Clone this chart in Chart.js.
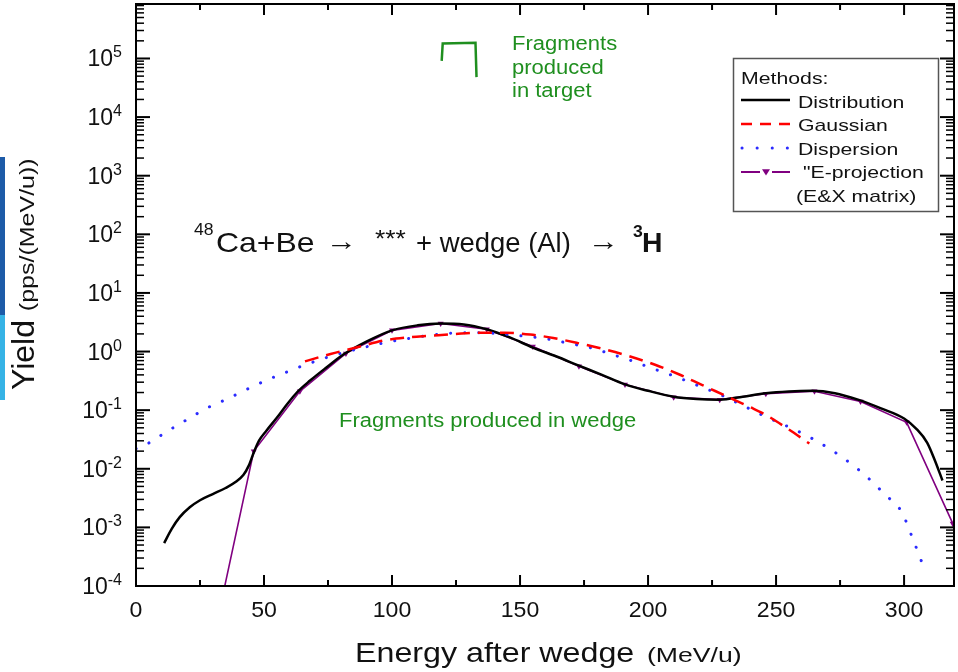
<!DOCTYPE html>
<html>
<head>
<meta charset="utf-8">
<script src="https://cdn.jsdelivr.net/npm/chart.js@4"></script>
<style>
  html, body { margin: 0; padding: 0; background: #fff; }
  #wrap { width: 958px; height: 672px; }
</style>
</head>
<body>
<div id="wrap"><canvas id="chart" width="958" height="672"></canvas></div>
<script>
// --- Data (energy in MeV/u, yield in pps/(MeV/u)) ---
const distE = [11, 14, 17, 21, 25, 30, 35, 39, 42, 44, 46, 48, 51, 55, 59, 63, 68, 74, 81, 90,
  100, 110, 119, 128, 137, 146, 155, 164, 173, 182, 191, 200, 210, 219, 228, 237, 246, 255,
  264, 273, 282, 291, 300, 305, 309, 312, 315];
const distY = [5.4e-4, 9.5e-4, 1.48e-3, 2.2e-3, 2.9e-3, 3.7e-3, 4.7e-3, 6.0e-3, 7.9e-3, 1.12e-2,
  1.9e-2, 3.0e-2, 4.5e-2, 7.4e-2, 0.126, 0.204, 0.32, 0.52, 0.89, 1.48,
  2.3, 2.8, 3.0, 2.9, 2.4, 1.74, 1.17, 0.83, 0.575, 0.40, 0.275, 0.214, 0.17, 0.155, 0.151,
  0.17, 0.195, 0.209, 0.214, 0.195, 0.151, 0.107, 0.072, 0.047, 0.028, 0.014, 0.0063];

const gaussE = [66, 76, 86, 97, 106, 115, 125, 134, 144, 154, 163, 173, 182, 192, 203, 212,
  221, 231, 240, 246, 254, 263];
const gaussY = [0.68, 0.91, 1.17, 1.55, 1.74, 1.86, 2.0, 2.09, 2.09, 1.95, 1.70, 1.38, 1.12,
  0.85, 0.59, 0.41, 0.27, 0.17, 0.112, 0.083, 0.050, 0.027];

const dispE = [0, 5, 12, 22, 27, 35, 44, 52, 60, 66, 76, 87, 95, 102, 112, 122, 131, 141, 150,
  160, 169, 179, 184, 193, 202, 211, 220, 228, 237, 245, 252, 258, 264, 272, 280, 285, 290,
  295, 299, 303, 307];
const dispY = [0.022, 0.0275, 0.043, 0.078, 0.105, 0.151, 0.234, 0.339, 0.468, 0.59, 0.83,
  1.12, 1.35, 1.55, 1.82, 2.04, 2.09, 2.04, 1.86, 1.66, 1.38, 1.12, 0.95, 0.71, 0.51, 0.37,
  0.257, 0.186, 0.12, 0.081, 0.059, 0.045, 0.033, 0.0204, 0.0115, 0.0076, 0.0047, 0.0029,
  0.00186, 7.1e-4, 2.5e-4];

const projE = [28, 46, 64, 82, 100, 119, 137, 155, 173, 191, 210, 228, 246, 265, 283, 301, 319];
const projY = [4.4e-6, 0.020, 0.21, 0.93, 2.3, 3.0, 2.4, 1.22, 0.56, 0.275, 0.166, 0.151,
  0.19, 0.21, 0.141, 0.062, 1.17e-3];

const xMajor = [0, 50, 100, 150, 200, 250, 300];
const yExponents = [-4, -3, -2, -1, 0, 1, 2, 3, 4, 5];

// green bracket marking fragments from the target (energy, yield)
const targetMarkE = [119.4, 119.8, 132.6, 133];
const targetMarkY = [9.1e4, 1.8e5, 1.85e5, 4.8e4];

const GREEN = "#1f8f1f";
const FONT = "'Liberation Sans', Arial, sans-serif";

const pts = (xs, ys) => xs.map((x, i) => ({ x, y: ys[i] }));

// draws text with an optional horizontal stretch, returns the drawn width
const drawText = (ctx, str, x, y, size, color, sx = 1, align = "left", weight = "") => {
  ctx.save();
  ctx.font = `${weight} ${size}px ${FONT}`;
  ctx.fillStyle = color;
  ctx.textBaseline = "alphabetic";
  const w = ctx.measureText(str).width * sx;
  let x0 = x;
  if (align === "center") x0 = x - w / 2;
  if (align === "right") x0 = x - w;
  ctx.translate(x0, y);
  ctx.scale(sx, 1);
  ctx.fillText(str, 0, 0);
  ctx.restore();
  return w;
};

const triangleDown = (ctx, x, y, r, color) => {
  ctx.beginPath();
  ctx.moveTo(x - r, y - r * 0.7);
  ctx.lineTo(x + r, y - r * 0.7);
  ctx.lineTo(x, y + r * 0.9);
  ctx.closePath();
  ctx.fillStyle = color;
  ctx.fill();
};

// --- frame, inward ticks, labels, titles and annotations ---
const decorations = {
  id: "decorations",
  beforeDraw(chart) {
    const ctx = chart.ctx;
    // slide edge strip on the left
    ctx.fillStyle = "#1d5ba8";
    ctx.fillRect(0, 157, 5, 158);
    ctx.fillStyle = "#36b3e6";
    ctx.fillRect(0, 315, 5, 85);
  },
  afterDraw(chart) {
    const ctx = chart.ctx;
    const { left, right, top, bottom } = chart.chartArea;
    const xs = chart.scales.x;
    const ys = chart.scales.y;

    ctx.save();
    ctx.strokeStyle = "#000";
    ctx.lineWidth = 2;
    ctx.strokeRect(left, top, right - left, bottom - top);

    const tick = (x1, y1, x2, y2, w) => {
      ctx.lineWidth = w;
      ctx.beginPath();
      ctx.moveTo(x1, y1);
      ctx.lineTo(x2, y2);
      ctx.stroke();
    };

    // x ticks (bottom up, top down)
    for (let v = 0; v <= xs.max; v += 25) {
      const px = xs.getPixelForValue(v);
      const len = v % 50 === 0 ? 11 : 6;
      tick(px, bottom, px, bottom - len, 2);
      tick(px, top, px, top + len, 2);
    }
    // y ticks (left to the right, right to the left)
    yExponents.forEach((e) => {
      for (let m = 1; m <= 9; m++) {
        const v = m * Math.pow(10, e);
        if (v > ys.max) break;
        const py = ys.getPixelForValue(v);
        const len = m === 1 ? 14 : 8;
        const w = m === 1 ? 2 : 1.5;
        tick(left, py, left + len, py, w);
        tick(right, py, right - len, py, w);
      }
    });

    // x tick labels
    xMajor.forEach((v) => {
      drawText(ctx, String(v), xs.getPixelForValue(v), 617, 22, "#111", 1.05, "center");
    });
    // y tick labels as 10^n
    yExponents.forEach((e) => {
      const py = ys.getPixelForValue(Math.pow(10, e));
      ctx.font = `16px ${FONT}`;
      const we = ctx.measureText(String(e)).width;
      ctx.font = `23px ${FONT}`;
      const w10 = ctx.measureText("10").width;
      const xr = 122;
      drawText(ctx, "10", xr - we - w10, py + 8, 23, "#111");
      drawText(ctx, String(e), xr - we, py - 1, 16, "#111");
    });

    // x title
    let tx = 355;
    drawText(ctx, "Energy after wedge", tx, 662, 28, "#111", 1.15);
    drawText(ctx, "(MeV/u)", 647, 662, 20, "#111", 1.33);

    // y title (rotated)
    ctx.save();
    ctx.translate(34, 0);
    ctx.rotate(-Math.PI / 2);
    let ty = -390;
    ty += drawText(ctx, "Yield ", ty, 0, 32, "#111");
    drawText(ctx, "(pps/(MeV/u))", ty, 0, 20, "#111", 1.25);
    ctx.restore();

    // reaction formula
    drawText(ctx, "48", 194, 235, 16, "#111", 1.1);
    drawText(ctx, "Ca+Be", 216, 252, 28, "#111", 1.14);
    drawText(ctx, "\u2192", 326, 250, 26, "#111", 1.2);
    drawText(ctx, "***", 375, 247, 24, "#111", 1.1);
    drawText(ctx, "+ wedge (Al)", 416, 252, 28, "#111", 0.98);
    drawText(ctx, "\u2192", 588, 250, 26, "#111", 1.2);
    drawText(ctx, "3", 633, 237, 16, "#111", 1.1, "left", "bold");
    drawText(ctx, "H", 642, 252, 27, "#111", 1.05, "left", "bold");

    // green annotations
    drawText(ctx, "Fragments produced in wedge", 339, 427, 20, GREEN, 1.1);
    drawText(ctx, "Fragments", 512, 50, 20, GREEN, 1.1);
    drawText(ctx, "produced", 512, 74, 20, GREEN, 1.1);
    drawText(ctx, "in target", 512, 97, 20, GREEN, 1.1);
    ctx.strokeStyle = GREEN;
    ctx.lineWidth = 2.5;
    ctx.lineJoin = "miter";
    ctx.beginPath();
    targetMarkE.forEach((e, i) => {
      const px = xs.getPixelForValue(e);
      const py = ys.getPixelForValue(targetMarkY[i]);
      if (i === 0) ctx.moveTo(px, py); else ctx.lineTo(px, py);
    });
    ctx.stroke();

    // legend box
    ctx.fillStyle = "#fff";
    ctx.fillRect(733, 58, 205, 153);
    ctx.strokeStyle = "#555";
    ctx.lineWidth = 1.5;
    ctx.strokeRect(733.5, 58.5, 205, 153);
    drawText(ctx, "Methods:", 741, 84, 17, "#111", 1.25);
    const rows = [
      { label: "Distribution", y: 108, x: 798 },
      { label: "Gaussian", y: 131, x: 798 },
      { label: "Dispersion", y: 155, x: 798 },
      { label: "\"E-projection", y: 178, x: 803 },
    ];
    rows.forEach((r) => drawText(ctx, r.label, r.x, r.y, 17, "#111", 1.25));
    drawText(ctx, "(E&X matrix)", 796, 202, 17, "#111", 1.25);

    const sample = (y, color, width, dash, cap, x1 = 741, x2 = 790) => {
      ctx.strokeStyle = color;
      ctx.lineWidth = width;
      ctx.setLineDash(dash);
      ctx.lineCap = cap;
      ctx.beginPath();
      ctx.moveTo(x1, y);
      ctx.lineTo(x2, y);
      ctx.stroke();
      ctx.setLineDash([]);
      ctx.lineCap = "butt";
    };
    sample(100, "#000", 2.5, [], "butt");
    sample(124, "#ff0000", 2.5, [11, 8], "butt", 741, 790);
    sample(148, "#2b2bff", 3, [0.1, 15], "round", 742, 790);
    sample(172, "#800080", 2, [], "butt", 741, 760);
    sample(172, "#800080", 2, [], "butt", 772, 790);
    triangleDown(ctx, 766, 172, 4, "#800080");

    ctx.restore();
  },
};

new Chart(document.getElementById("chart"), {
  type: "line",
  data: {
    datasets: [
      {
        label: "Gaussian",
        data: pts(gaussE, gaussY),
        borderColor: "#ff0000",
        borderWidth: 2.5,
        borderDash: [14, 8],
        pointRadius: 0,
        cubicInterpolationMode: "monotone",
      },
      {
        label: "Dispersion",
        data: pts(dispE, dispY),
        borderColor: "#2b2bff",
        borderWidth: 3,
        borderDash: [0.1, 14],
        borderCapStyle: "round",
        pointRadius: 0,
        cubicInterpolationMode: "monotone",
      },
      {
        label: "Distribution",
        data: pts(distE, distY),
        borderColor: "#000",
        borderWidth: 2.5,
        pointRadius: 0,
        cubicInterpolationMode: "monotone",
      },
      {
        label: "E-projection",
        data: pts(projE, projY),
        borderColor: "#800080",
        backgroundColor: "#800080",
        borderWidth: 1.6,
        pointStyle: "triangle",
        rotation: 180,
        pointRadius: 3.5,
        pointBorderWidth: 0,
        tension: 0,
      },
    ],
  },
  options: {
    responsive: false,
    animation: false,
    devicePixelRatio: 1,
    layout: { padding: { top: 3, right: 1, left: 0, bottom: 0 } },
    plugins: { legend: { display: false }, tooltip: { enabled: false } },
    scales: {
      x: {
        type: "linear",
        min: 0,
        max: 319.5,
        ticks: { display: false },
        grid: { display: false },
        border: { display: false },
        afterFit: (s) => { s.height = 86; },
      },
      y: {
        type: "logarithmic",
        min: 1e-4,
        max: 8.5e5,
        ticks: { display: false },
        grid: { display: false },
        border: { display: false },
        afterFit: (s) => { s.width = 136; },
      },
    },
  },
  plugins: [decorations],
});
</script>
</body>
</html>
